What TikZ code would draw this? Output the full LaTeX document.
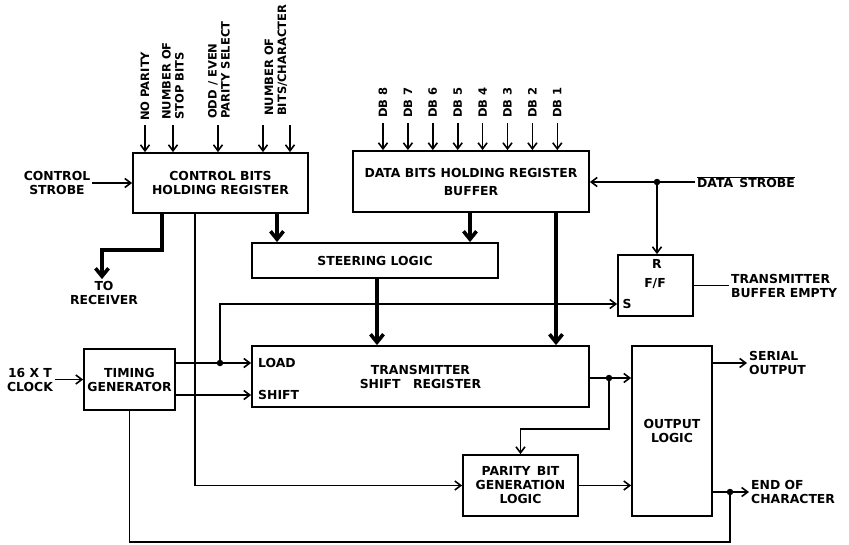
\documentclass[tikz,border=0pt]{standalone}
\usepackage{fontspec}
\setmainfont{DejaVu Sans}
\usepackage{tikz}
\usetikzlibrary{arrows.meta, positioning}

\begin{document}
\begin{tikzpicture}[x=1pt, y=-1pt,
  font=\bfseries\fontsize{12.4}{14}\selectfont,
  >={Straight Barb[length=6pt,width=9pt]},
  blk/.style={draw, line width=1.8pt, inner sep=0pt, align=center},
  lbl/.style={inner sep=2pt, align=center},
  rot/.style={rotate=90, anchor=west, align=left, inner sep=0pt,
    font=\bfseries\fontsize{11.5}{13}\selectfont},
  sig/.style={line width=1.6pt},
  bus/.style={line width=3.6pt, -{Straight Barb[length=8pt,width=13pt]}},
  dot/.style={circle, fill, inner sep=0pt, minimum size=6.5pt}]
  \useasboundingbox (0,0) rectangle (849,544);

  % blocks
  \node[blk, minimum width=175pt, minimum height=60pt] (cbr) at (220.5,183) {CONTROL BITS\\HOLDING REGISTER};
  \node[blk, minimum width=236pt, minimum height=61pt] (dbr) at (471,181.5) {DATA BITS HOLDING REGISTER\\[4pt]BUFFER};
  \node[blk, minimum width=246pt, minimum height=35pt] (steer) at (375,260.5) {STEERING LOGIC};
  \node[blk, minimum width=75pt, minimum height=61pt] (ff) at (655.5,285.5) {};
  \node[blk, minimum width=91pt, minimum height=61pt] (timing) at (129.5,379.5) {TIMING\\GENERATOR};
  \node[blk, minimum width=337pt, minimum height=61pt] (tsr) at (420.5,376.5) {TRANSMITTER\\SHIFT\quad REGISTER};
  \node[blk, minimum width=115pt, minimum height=61pt] (parity) at (520.5,485.5) {PARITY\enspace BIT\\GENERATION\\LOGIC};
  \node[blk, minimum width=80pt, minimum height=170pt] (outlog) at (672,431) {OUTPUT\\LOGIC};

  % pin names
  \node[lbl] (rin) at (657,264) {R};
  \node[lbl] at (655,284) {F/F};
  \node[lbl] (sin) at (627,304) {S};
  \node[lbl, anchor=west] (load) at (256,363) {LOAD};
  \node[lbl, anchor=west] (shift) at (256,395) {SHIFT};

  % outer labels
  \node[lbl] (cs) at (57,183) {CONTROL\\STROBE};
  \node[lbl] (clk) at (30,379.5) {16 X T\\CLOCK};
  \node[lbl] (torx) at (104,293) {TO\\RECEIVER};
  \node[lbl, anchor=west] (ds) at (695,182) {$\overline{\hbox{DATA\enspace STROBE}}$};
  \node[lbl, anchor=west, align=left, right=35pt of ff] (tbe) {TRANSMITTER\\BUFFER EMPTY};
  \node[lbl, anchor=west, align=left] (serout) at (747,363) {SERIAL\\OUTPUT};
  \node[lbl, anchor=west, align=left] (eoc) at (749,492) {END OF\\CHARACTER};

  % control inputs
  \foreach \x in {145,173,218,263,290} {
    \coordinate (ci\x) at (\x,125);
    \draw[sig,->] (ci\x) -- (ci\x |- cbr.north);
  }
  \node[rot] at (145,121) {NO PARITY};
  \node[rot] at (173,120) {NUMBER OF\\STOP BITS};
  \node[rot] at (219,119) {ODD / EVEN\\PARITY SELECT};
  \node[rot] at (276,116) {NUMBER OF\\BITS/CHARACTER};

  % data inputs
  \foreach \n [count=\i from 0] in {8,7,...,1} {
    \pgfmathsetmacro\x{383+24.9*\i}
    \coordinate (db\n) at (\x,123);
    \draw[sig,->] (db\n) -- (db\n |- dbr.north);
    \node[rot] at (\x,118) {DB \n};
  }

  % helper points
  \coordinate (xrx) at (162,0);
  \coordinate (xst) at (277,0);
  \coordinate (xdb) at (470,0);
  \coordinate (xsl) at (377,0);
  \coordinate (xdt) at (556,0);
  \coordinate (xcb) at (195,0);
  \coordinate (rxbend) at (102,250);
  \coordinate (ldot) at (220,363);
  \coordinate (tdot) at (609,378);
  \coordinate (pb) at (0,429);
  \coordinate (dsdot) at (657,182);
  \coordinate (edot) at (730,492);
  \coordinate (bot) at (730,542);

  % buses
  \draw[bus] (cbr.south -| xst) -- (steer.north -| xst);
  \draw[bus] (dbr.south -| xdb) -- (steer.north -| xdb);
  \draw[bus] (steer.south -| xsl) -- (tsr.north -| xsl);
  \draw[bus] (dbr.south -| xdt) -- (tsr.north -| xdt);
  \draw[bus] (cbr.south -| xrx) |- (rxbend) -- (rxbend |- torx.north);

  % strobes and clock
  \draw[sig,->] (cs) -- (cbr);
  \draw[sig,->] (clk) -- (timing);
  \draw[sig,->] (ds.west) -- (dbr.east |- ds.west);
  \draw[sig,->] (dsdot) -- (dsdot |- ff.north);
  \node[dot] at (dsdot) {};

  % timing outputs
  \draw[sig,->] (timing.east |- load) -- (tsr.west |- load);
  \draw[sig,->] (timing.east |- shift) -- (tsr.west |- shift);
  \draw[sig,->] (ldot) |- (ff.west |- sin);
  \node[dot] at (ldot) {};
  \draw[sig,->] (cbr.south -| xcb) |- (parity.west);

  % outputs
  \draw[sig] (ff.east |- tbe.west) -- (tbe.west);
  \draw[sig,->] (tsr.east |- tdot) -- (outlog.west |- tdot);
  \draw[sig,->] (tdot) -- (tdot |- pb) -| (parity.north);
  \node[dot] at (tdot) {};
  \draw[sig,->] (parity.east) -- (outlog.west |- parity.east);
  \draw[sig,->] (outlog.east |- serout.west) -- (serout.west);
  \draw[sig,->] (outlog.east |- eoc.west) -- (eoc.west);
  \draw[sig] (timing.south) |- (bot) -- (edot);
  \node[dot] at (edot) {};
\end{tikzpicture}
\end{document}
